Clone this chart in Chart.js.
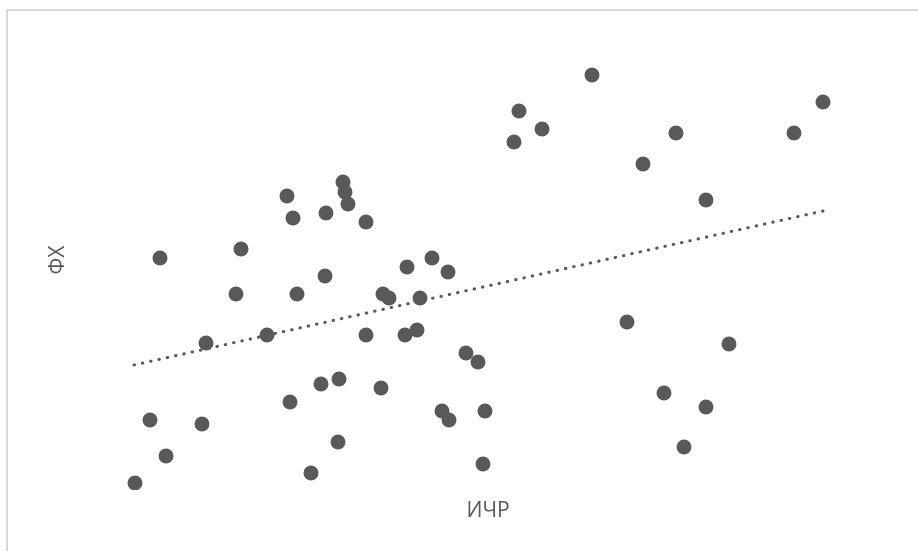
<!DOCTYPE html>
<html>
<head>
<meta charset="utf-8">
<script src="https://cdn.jsdelivr.net/npm/chart.js@4"></script>
<style>
  html, body { margin: 0; padding: 0; background: #fff; overflow: hidden; }
  #frame {
    position: absolute; left: 6px; top: 9px;
    width: 2000px; height: 2000px;
    border: 2px solid #d9d9d9;
  }
  #chart { position: absolute; left: 0; top: 0; }
</style>
</head>
<body>
<div id="frame"></div>
<canvas id="chart" width="918" height="551"></canvas>
<script>
// ИЧР (x) and ФХ (y) values
const ichr = [34.3, 34.5, 34.8, 28.7, 29.3, 32.6, 36.6, 16.0, 24.1, 32.5,
              23.6, 29.7, 40.7, 43.2, 44.8, 38.3, 38.9, 42.0, 20.6, 26.7,
              36.6, 40.5, 41.7, 46.6, 47.8, 32.1, 33.9, 38.1, 29.0, 15.0,
              20.2, 44.2, 44.9, 48.5, 16.6, 33.8, 48.3, 31.1, 13.5, 59.2,
              51.9, 54.2, 51.4, 67.6, 79.4, 82.3, 64.3, 70.6, 62.7, 72.9,
              66.4, 70.6, 68.4];
const fh   = [31.8, 30.8, 29.6, 30.4, 28.2, 28.7, 27.8, 24.2, 25.1, 22.4,
              20.6, 20.6, 23.3, 24.2, 22.8, 20.6, 20.2, 20.2, 15.7, 16.5,
              16.5, 16.5, 17.0, 14.7, 13.8, 11.6, 12.1, 11.2, 9.8, 8.0,
              7.6, 8.9, 8.0, 8.9, 4.4, 5.8, 3.6, 2.7, 1.7, 42.5,
              38.9, 37.1, 35.8, 36.7, 36.7, 39.8, 33.6, 30.0, 17.8, 15.6,
              10.7, 9.3, 5.3];

// linear trendline ends
const trendX = [13.4, 82.3];
const trendY = [13.5, 28.9];

const grey = '#595959';

const points = ichr.map((x, i) => ({ x: x, y: fh[i] }));
const trend = trendX.map((x, i) => ({ x: x, y: trendY[i] }));

new Chart(document.getElementById('chart'), {
    type: 'scatter',
    data: {
        datasets: [{
            data: points,
            backgroundColor: grey,
            borderWidth: 0,
            pointRadius: 7.5,
            order: 1
        }, {
            type: 'line',
            data: trend,
            borderColor: grey,
            borderWidth: 3,
            borderDash: [0.5, 8],
            borderCapStyle: 'round',
            pointRadius: 0,
            fill: false,
            order: 0
        }]
    },
    options: {
        responsive: false,
        animation: false,
        layout: {
            padding: { left: 41.9, right: 18, top: 30, bottom: 25.6 }
        },
        plugins: {
            legend: { display: false },
            tooltip: { enabled: false }
        },
        scales: {
            x: {
                type: 'linear',
                min: 7.6,
                max: 90,
                ticks: { display: false },
                grid: { display: false, drawTicks: false },
                border: { display: false },
                title: {
                    display: true,
                    text: 'ИЧР',
                    color: grey,
                    font: { family: 'Open Sans', size: 21 },
                    padding: { top: 8.2, bottom: 2 }
                }
            },
            y: {
                min: 1,
                max: 47,
                ticks: { display: false },
                grid: { display: false, drawTicks: false },
                border: { display: false },
                title: {
                    display: true,
                    text: 'ФХ',
                    color: grey,
                    font: { family: 'Open Sans', size: 21 },
                    padding: { top: 4, bottom: 4.9 }
                }
            }
        }
    }
});
</script>
</body>
</html>
